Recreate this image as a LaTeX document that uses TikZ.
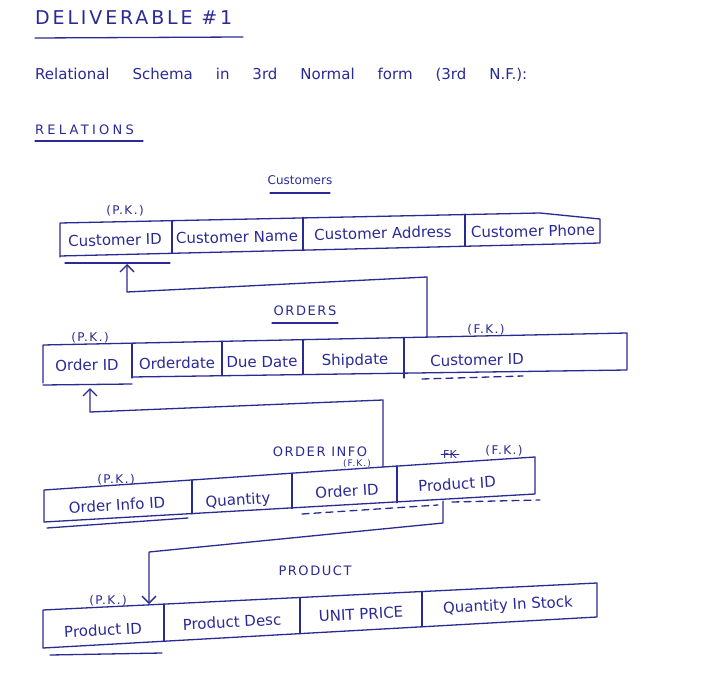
\documentclass[tikz,border=0pt]{standalone}
\usepackage{fontspec}
\setmainfont{DejaVu Sans}
\newfontfamily\spacedA[LetterSpace=25]{DejaVu Sans}
\newfontfamily\spacedB[LetterSpace=12]{DejaVu Sans}
\newfontfamily\spacedC[LetterSpace=15]{DejaVu Sans}
\usetikzlibrary{arrows.meta}
\definecolor{ink}{RGB}{42,42,150}
\begin{document}
\begin{tikzpicture}[x=1pt,y=-1pt]
\tikzset{
  inkln/.style={draw=ink, line width=1.3pt, line join=round, line cap=round},
  cell/.style={text=ink, font=\fontsize{15}{17}\selectfont, inner sep=0pt, anchor=center},
  lbl/.style={text=ink, font=\spacedB\fontsize{13}{15}\selectfont, inner sep=0pt},
  keylbl/.style={text=ink, font=\spacedB\fontsize{12}{14}\selectfont, inner sep=0pt},
  arr/.style={inkln, -{Straight Barb[length=7pt,width=14pt,line width=1.3pt]}},
  fkdash/.style={inkln, dash pattern=on 7pt off 5pt}
}
\fill[white] (0,0) rectangle (727,684);
\useasboundingbox (0,0) rectangle (727,684);

% headings
\node[text=ink, font=\spacedC\fontsize{19}{21}\selectfont, inner sep=0pt, anchor=west] (title) at (35,18) {DELIVERABLE \#1};
\draw[inkln] (35,38) -- (243,37);
\node[text=ink, font=\fontsize{15}{17}\selectfont, inner sep=0pt, anchor=west] (schema) at (35,75)
  {\makebox[492pt][s]{Relational Schema in 3rd Normal form (3rd N.F.):}};
\node[text=ink, font=\spacedA\fontsize{13}{15}\selectfont, inner sep=0pt, anchor=west] (rel) at (35,130) {RELATIONS};
\draw[inkln] (35,141) -- (143,141);

% ---------------- Customers
\node[text=ink, font=\fontsize{12}{14}\selectfont, inner sep=0pt] (custT) at (300,180) {Customers};
\draw[inkln] (270,193) -- (330,193);
\node[keylbl] (custPK) at (125,211) {(P.K.)};
\draw[inkln] (60,257) -- (60,223) -- (540,213) -- (600,219) -- (600,243) -- (60,256);
\draw[inkln] (172,220.4) -- (172,253.3);
\draw[inkln] (303,217.4) -- (303,250.2);
\draw[inkln] (465,214.2) -- (465,246.3);
\draw[inkln] (65,263) -- (170,263);
\node[cell, rotate=1.3] (cid) at (115,240) {Customer ID};
\node[cell, rotate=1.3] (cname) at (237,237) {Customer Name};
\node[cell, rotate=1.3] (caddr) at (383,233) {Customer Address};
\node[cell, rotate=1.3] (cphone) at (533,231) {Customer Phone};

% ---------------- Orders
\node[lbl] (ordT) at (305,311) {ORDERS};
\draw[inkln] (272,323) -- (338,323);
\node[keylbl] (ordPK) at (90,338) {(P.K.)};
\node[keylbl] (ordFK) at (486,330) {(F.K.)};
\draw[inkln] (43,383) -- (43,345) -- (627,333) -- (627,370) -- (132,377);
\draw[inkln] (132,343.2) -- (132,378);
\draw[inkln] (222,341.3) -- (222,375.7);
\draw[inkln] (303,339.7) -- (303,374.6);
\draw[inkln] (404,337.6) -- (404,378);
\draw[inkln] (43,385) -- (132,384);
\draw[fkdash] (422,379) -- (523,376);
\node[cell, rotate=1] (oid) at (87,365) {Order ID};
\node[cell, rotate=1] (odate) at (177,363) {Orderdate};
\node[cell, rotate=1] (ddate) at (262,362) {Due Date};
\node[cell, rotate=1] (sdate) at (355,361) {Shipdate};
\node[cell, rotate=1] (ocid) at (477,360) {Customer ID};

% connector Orders.CustomerID -> Customers.CustomerID
\coordinate (cidBot) at (127,264);
\coordinate (k1a) at (127,292);
\coordinate (k1b) at (427,277);
\coordinate (ocidTop) at (427,337);
\draw[arr] (ocidTop) -- (k1b) -- (k1a) -- (cidBot);

% ---------------- Order Info
\node[lbl] (oiT) at (320,452) {ORDER INFO};
\node[text=ink, font=\spacedB\fontsize{9}{11}\selectfont, inner sep=0pt] (oiFK1) at (357,464) {(F.K.)};
\node[keylbl] (oiPK) at (116,480) {(P.K.)};
\node[text=ink, font=\fontsize{11}{13}\selectfont, inner sep=0pt] (xfk) at (450,454) {FK};
\draw[inkln, line width=1pt] ([xshift=-2pt]xfk.west) -- ([xshift=2pt]xfk.east);
\node[keylbl] (oiFK2) at (504,451) {(F.K.)};
\draw[inkln] (44,522) -- (44,490) -- (383,467) -- (535,457) -- (535,494) -- cycle;
\draw[inkln] (192,480) -- (192,513.9);
\draw[inkln] (292,473.2) -- (292,508.4);
\draw[inkln] (397,466.1) -- (397,502.7);
\draw[inkln] (47,528) -- (188,518);
\draw[fkdash] (302,514) -- (438,505);
\draw[fkdash] (452,502) -- (540,500);
\node[cell, rotate=3.5] (oiid) at (117,505) {Order Info ID};
\node[cell, rotate=3.5] (oiqty) at (238,501) {Quantity};
\node[cell, rotate=3.5] (oioid) at (347,491) {Order ID};
\node[cell, rotate=3.5] (oipid) at (457,484) {Product ID};

% connector OrderInfo.OrderID -> Orders.OrderID
\coordinate (oidBot) at (90,388);
\coordinate (k2a) at (90,412);
\coordinate (k2b) at (383,400);
\coordinate (oioidTop) at (383,467);
\draw[arr] (oioidTop) -- (k2b) -- (k2a) -- (oidBot);

% ---------------- Product
\node[lbl] (prodT) at (315,571) {PRODUCT};
\node[keylbl] (prodPK) at (108,601) {(P.K.)};
\draw[inkln] (43,648) -- (43,610) -- (597,583) -- (597,617) -- cycle;
\draw[inkln] (164,604.1) -- (164,641.2);
\draw[inkln] (300,597.5) -- (300,633.6);
\draw[inkln] (422,591.5) -- (422,626.8);
\draw[inkln] (50,655) -- (162,653);
\node[cell, rotate=3] (pid) at (103,630) {Product ID};
\node[cell, rotate=3] (pdesc) at (232,622) {Product Desc};
\node[cell, rotate=3] (pprice) at (361,614) {UNIT PRICE};
\node[cell, rotate=3] (pstock) at (508,606) {Quantity In Stock};

% connector OrderInfo.ProductID -> Product.ProductID
\coordinate (oipidBot) at (443,501);
\coordinate (k3a) at (443,523);
\coordinate (k3b) at (149,552);
\coordinate (pidTop) at (149,604);
\draw[arr] (oipidBot) -- (k3a) -- (k3b) -- (pidTop);
\end{tikzpicture}
\end{document}
